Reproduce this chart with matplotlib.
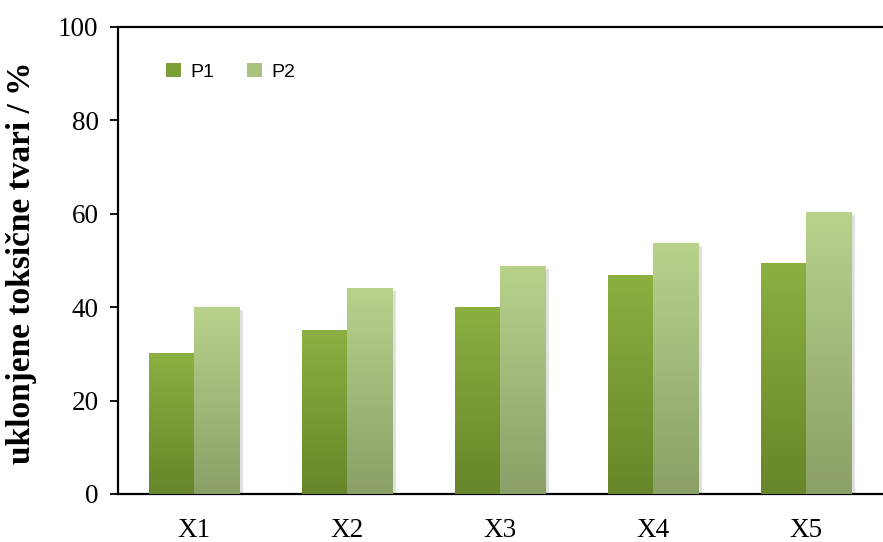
import matplotlib
matplotlib.use("Agg")
import matplotlib.pyplot as plt
import matplotlib.patheffects as pe
from matplotlib.colors import LinearSegmentedColormap
from matplotlib.patches import Patch
import numpy as np

categories = ["X1", "X2", "X3", "X4", "X5"]
p1 = [30.2, 35.1, 40.0, 46.9, 49.5]
p2 = [40.0, 44.1, 48.8, 53.7, 60.4]
yticks = [0, 20, 40, 60, 80, 100]

# gradient colours (bottom -> top)
p1_cols = ["#678629", "#8cb041"]
p2_cols = ["#8aa067", "#b8d28b"]

fig = plt.figure(figsize=(8.83, 5.42), dpi=100)
ax = fig.add_axes([0.1336, 0.0886, 0.866, 0.8616])

x = np.arange(len(categories))
w = 0.295

shadow = [pe.SimplePatchShadow(offset=(2.5, -2), shadow_rgbFace="#999999", alpha=0.3), pe.Normal()]


def grad_bars(xs, vals, cols):
    bars = ax.bar(xs, vals, w, color=cols[1], path_effects=shadow, zorder=2)
    cmap = LinearSegmentedColormap.from_list("g", cols)
    grad = np.linspace(0, 1, 256).reshape(-1, 1)
    for b in bars:
        x0, y0 = b.get_x(), b.get_y()
        im = ax.imshow(grad, cmap=cmap, origin="lower", aspect="auto",
                       extent=[x0, x0 + b.get_width(), y0, y0 + b.get_height()],
                       zorder=3)
        im.set_clip_path(b)
    return bars


grad_bars(x - w / 2, p1, p1_cols)
grad_bars(x + w / 2, p2, p2_cols)

ax.set_xlim(-0.5, len(categories) - 0.5)
ax.set_ylim(0, 100)
ax.set_yticks(yticks)
ax.set_xticks(x)
ax.set_xticklabels(categories)
ax.tick_params(axis="x", length=0, pad=17)
ax.tick_params(axis="y", length=6, width=1.3, direction="out", pad=8)
for lab in ax.get_xticklabels() + ax.get_yticklabels():
    lab.set_fontfamily("Liberation Serif")
    lab.set_fontsize(19.5)

ax.spines["right"].set_visible(False)
for s in ["left", "top", "bottom"]:
    ax.spines[s].set_linewidth(1.6)

ax.set_ylabel("uklonjene toksične tvari / %", fontfamily="Liberation Serif",
              fontweight="bold", fontsize=24)
ax.yaxis.set_label_coords(-0.106, 0.495)

handles = [Patch(facecolor="#7c9e37", label="P1"), Patch(facecolor="#a9c27c", label="P2")]
leg = ax.legend(handles=handles, loc="upper left", ncol=2, frameon=False,
                bbox_to_anchor=(0.04, 0.96), handlelength=0.75, handleheight=0.75,
                handletextpad=0.5, columnspacing=1.7,
                prop={"family": "Liberation Sans", "size": 14})

fig.savefig("out.png", dpi=100)
